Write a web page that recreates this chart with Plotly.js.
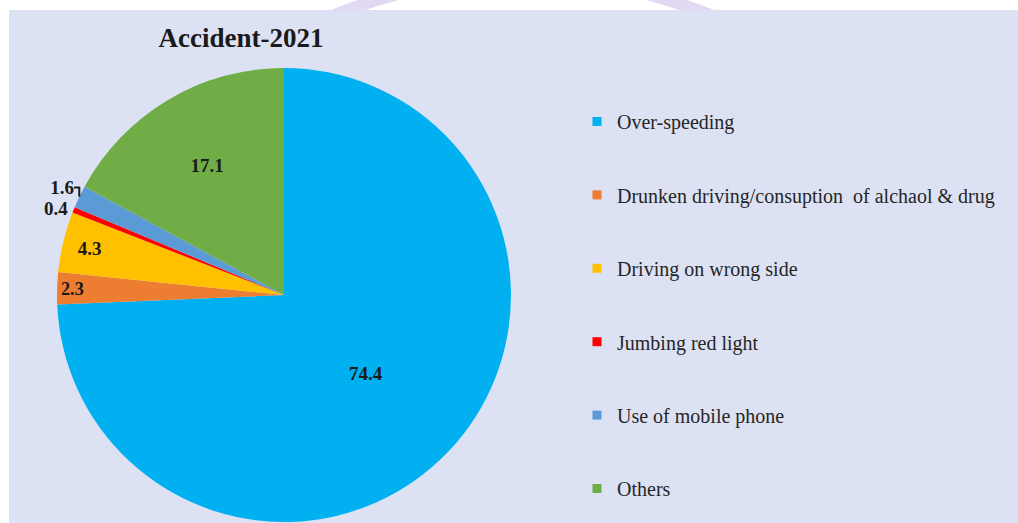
<!DOCTYPE html>
<html>
<head>
<meta charset="utf-8">
<script src="https://cdn.plot.ly/plotly-3.0.1.min.js"></script>
<style>
html,body{margin:0;padding:0;overflow:hidden;background:#fff;}
#chart{width:1018px;height:530px;}
</style>
</head>
<body>
<div id="chart"></div>
<script>
const categories = [
  "Over-speeding",
  "Drunken driving/consuption  of alchaol & drug",
  "Driving on wrong side",
  "Jumbing red light",
  "Use of mobile phone",
  "Others"
];
const values = [74.4, 2.3, 4.3, 0.4, 1.6, 17.1];
const colors = ["#00b0f0", "#ed7d31", "#ffc000", "#ff0000", "#5b9bd5", "#70ad47"];
const labelPositions = ["inside", "inside", "inside", "outside", "outside", "inside"];
const chartTitle = "Accident-2021";

const W = 1018, H = 530;
const px = x => x / W;
const py = y => 1 - y / H;
const SERIF = "Liberation Serif";

const pieTrace = {
  type: "pie",
  labels: categories,
  values: values,
  sort: false,
  direction: "clockwise",
  rotation: 0,
  showlegend: false,
  marker: {colors: colors, line: {width: 0}},
  texttemplate: "%{value}",
  textposition: labelPositions,
  insidetextorientation: "horizontal",
  textfont: {family: SERIF, size: 19, color: "#1a1a1a", weight: "bold"},
  insidetextfont: {family: SERIF, size: 19, color: "#1a1a1a", weight: "bold"},
  outsidetextfont: {family: SERIF, size: 19, color: "#1a1a1a", weight: "bold"},
  hoverinfo: "label+value",
  domain: {x: [px(57), px(511)], y: [py(522), py(68)]}
};

// legend entries (one per category, same colours as the slices)
const legendTraces = categories.map((c, i) => ({
  type: "scatter",
  mode: "markers",
  x: [null], y: [null],
  name: c,
  legendgroup: "g" + i,
  showlegend: true,
  marker: {symbol: "square", size: 9, color: colors[i]},
  hoverinfo: "skip"
}));

const layout = {
  width: W, height: H,
  margin: {l: 0, r: 0, t: 0, b: 0},
  font: {family: SERIF, color: "#262626"},
  paper_bgcolor: "#ffffff",
  plot_bgcolor: "rgba(0,0,0,0)",
  xaxis: {visible: false},
  yaxis: {visible: false},
  title: {
    text: chartTitle,
    x: px(241), xanchor: "center", xref: "paper",
    y: py(38), yanchor: "middle", yref: "paper",
    font: {family: SERIF, size: 27, color: "#1a1a1a", weight: "bold"}
  },
  showlegend: true,
  legend: {
    x: px(577), xanchor: "left",
    y: py(102), yanchor: "top",
    font: {family: SERIF, size: 20, color: "#262626", weight: "normal"},
    bgcolor: "rgba(0,0,0,0)",
    tracegroupgap: 44.4,
    traceorder: "grouped"
  },
  shapes: [
    {type: "path", xref: "paper", yref: "paper", layer: "below",
     path: `M ${px(300)} ${py(30)} Q ${px(522)} ${py(-75)} ${px(745)} ${py(30)}`,
     line: {color: "rgba(214,200,238,0.7)", width: 12}},
    {type: "rect", xref: "paper", yref: "paper", layer: "below",
     x0: px(9), x1: 1.01, y0: -0.05, y1: py(10),
     fillcolor: "#dce2f3", line: {width: 0}}
  ]
};

Plotly.newPlot("chart", [pieTrace].concat(legendTraces), layout, {displayModeBar: false, staticPlot: true});
</script>
</body>
</html>
